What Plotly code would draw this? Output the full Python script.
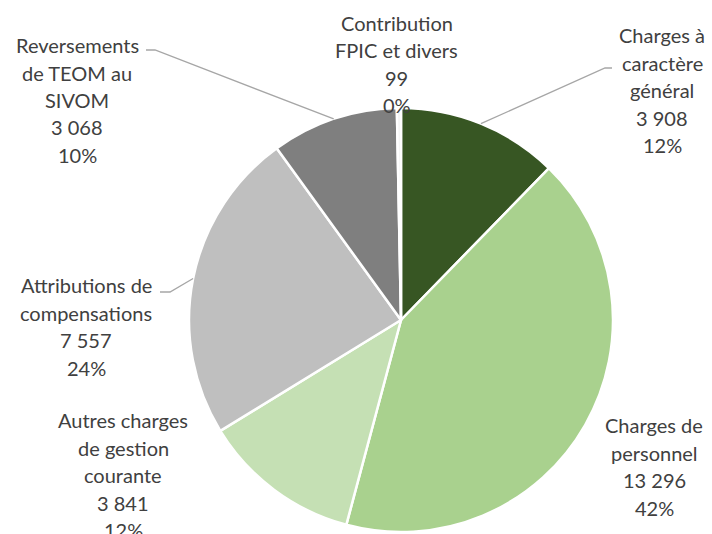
import math
import plotly.graph_objects as go

# données (k€)
categories = [
    ["Charges à", "caractère", "général"],
    ["Charges de", "personnel"],
    ["Autres charges", "de gestion", "courante"],
    ["Attributions de", "compensations"],
    ["Reversements", "de TEOM au", "SIVOM"],
    ["Contribution", "FPIC et divers"],
]
valeurs = [3908, 13296, 3841, 7557, 3068, 99]
couleurs = ["#375623", "#A9D18E", "#C5E0B4", "#BFBFBF", "#7F7F7F", "#F2F2F2"]

W, H = 712, 534
cx, cy, r = 401, 320, 212  # centre / rayon du camembert en pixels
interligne = 27.5

# position (pixels) : centre x et y de la première ligne de chaque étiquette
pos_labels = [(662, 35), (654, 425), (123, 420), (86, 285), (77, 45), (397, 23)]
# crochet horizontal des lignes de rappel (None = pas de ligne)
crochets = [((612, 68), (605, 68)), None, None, ((160, 292), (170, 292)),
            ((146, 50), (155, 50)), None]


def fmt(v):
    return f"{v:,}".replace(",", " ")


total = sum(valeurs)

fig = go.Figure(layout={'width': W, 'height': H})
fig.add_trace(
    go.Pie(
        values=valeurs,
        labels=[" ".join(c) for c in categories],
        marker=dict(colors=couleurs, line=dict(color="white", width=2.5)),
        sort=False,
        direction="clockwise",
        rotation=0,
        textinfo="none",
        hoverinfo="label+value+percent",
        domain=dict(x=[(cx - r) / W, (cx + r) / W],
                    y=[(H - cy - r) / H, (H - cy + r) / H]),
    )
)

annotations = []
shapes = []
cumul = 0
for cat, v, (lx, ly), crochet in zip(categories, valeurs, pos_labels, crochets):
    pct = round(100 * v / total)
    lignes = cat + [fmt(v), f"{pct}%"]
    for i, ligne in enumerate(lignes):
        annotations.append(dict(
            x=lx / W, y=1 - (ly + i * interligne) / H, xref="paper", yref="paper",
            text=ligne, showarrow=False,
            font=dict(family="Lato, Open Sans, sans-serif", size=20, color="#404040"),
            xanchor="center", yanchor="middle",
        ))
    mid = 2 * math.pi * (cumul + v / 2) / total
    cumul += v
    if crochet:
        ax = cx + r * math.sin(mid)
        ay = cy - r * math.cos(mid)
        (x0, y0), (x1, y1) = crochet
        pts = [(x0, y0), (x1, y1), (ax, ay)]
        path = "M " + " L ".join(f"{x / W},{1 - y / H}" for x, y in pts)
        shapes.append(dict(type="path", path=path, xref="paper", yref="paper",
                           line=dict(color="#A6A6A6", width=1.3)))

fig.update_layout(
    showlegend=False,
    margin=dict(l=0, r=0, t=0, b=0),
    paper_bgcolor="white",
    annotations=annotations,
    shapes=shapes,
)

fig.write_html("out.html", config={"displayModeBar": False},
               post_script="document.body.style.margin='0';")
